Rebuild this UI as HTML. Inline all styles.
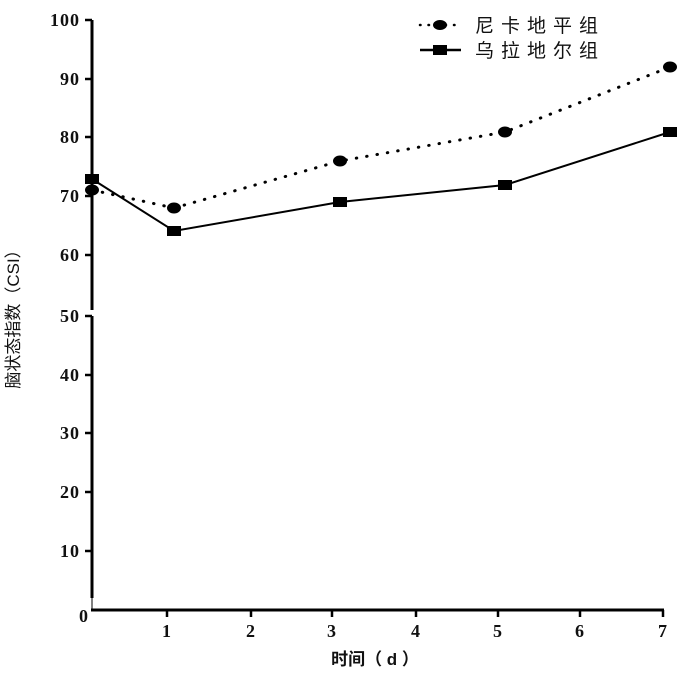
<!DOCTYPE html>
<html><head><meta charset="utf-8"><style>
html,body{margin:0;padding:0;background:#fff;width:700px;height:691px;overflow:hidden}
svg{display:block}
.t{font-family:"Liberation Serif","Noto Serif CJK SC",serif;font-weight:bold;font-size:18px;fill:#111;letter-spacing:1px}
.c{font-family:"Liberation Sans","Noto Sans CJK SC",sans-serif;fill:#111}
</style></head><body>
<svg width="700" height="691" viewBox="0 0 700 691" xmlns="http://www.w3.org/2000/svg">
<line x1="92" y1="20" x2="92" y2="310" stroke="#000" stroke-width="3"/>
<line x1="92" y1="316" x2="92" y2="598" stroke="#000" stroke-width="3"/>
<line x1="92" y1="598" x2="92" y2="610" stroke="#000" stroke-width="1"/>
<line x1="91" y1="610" x2="664" y2="610" stroke="#000" stroke-width="3"/>
<g stroke="#000" stroke-width="2.5">
<line x1="85" y1="20" x2="92" y2="20"/><line x1="85" y1="79" x2="92" y2="79"/>
<line x1="85" y1="137" x2="92" y2="137"/><line x1="85" y1="196" x2="92" y2="196"/>
<line x1="85" y1="255" x2="92" y2="255"/><line x1="85" y1="316" x2="92" y2="316"/>
<line x1="85" y1="375" x2="92" y2="375"/><line x1="85" y1="433" x2="92" y2="433"/>
<line x1="85" y1="492" x2="92" y2="492"/><line x1="85" y1="551" x2="92" y2="551"/>
<line x1="167" y1="610" x2="167" y2="617"/><line x1="251" y1="610" x2="251" y2="617"/>
<line x1="332" y1="610" x2="332" y2="617"/><line x1="416" y1="610" x2="416" y2="617"/>
<line x1="498" y1="610" x2="498" y2="617"/><line x1="580" y1="610" x2="580" y2="617"/>
<line x1="663" y1="610" x2="663" y2="617"/>
</g>
<g class="t" text-anchor="end">
<text x="80" y="26">100</text><text x="80" y="85">90</text><text x="80" y="143">80</text>
<text x="80" y="202">70</text><text x="80" y="261">60</text><text x="80" y="322">50</text>
<text x="80" y="381">40</text><text x="80" y="439">30</text><text x="80" y="498">20</text>
<text x="80" y="557">10</text>
</g>
<g class="t" text-anchor="middle">
<text x="84" y="622">0</text>
<text x="167" y="637">1</text><text x="251" y="637">2</text><text x="332" y="637">3</text>
<text x="416" y="637">4</text><text x="498" y="637">5</text><text x="580" y="637">6</text>
<text x="663" y="637">7</text>
</g>
<text class="c" x="375" y="665" text-anchor="middle" font-size="17" font-weight="bold">时间（ d ）</text>
<text class="c" transform="translate(19,315) rotate(-90)" text-anchor="middle" font-size="17" font-family="Liberation Serif, Noto Serif CJK SC, serif">脑状态指数（CSI）</text>
<polyline points="92,190 174,208 340,161 505,132 670,67" fill="none" stroke="#000" stroke-width="3" stroke-dasharray="0.5,10" stroke-linecap="round"/>
<polyline points="92,179 174,231 340,202 505,185 670,132" fill="none" stroke="#000" stroke-width="2"/>
<g fill="#000">
<ellipse cx="92" cy="190" rx="7" ry="5.5"/><ellipse cx="174" cy="208" rx="7" ry="5.5"/>
<ellipse cx="340" cy="161" rx="7" ry="5.5"/><ellipse cx="505" cy="132" rx="7" ry="5.5"/>
<ellipse cx="670" cy="67" rx="7" ry="5.5"/>
<rect x="85" y="174" width="14" height="10"/><rect x="167" y="226" width="14" height="10"/>
<rect x="333" y="197" width="14" height="10"/><rect x="498" y="180" width="14" height="10"/>
<rect x="663" y="127" width="14" height="10"/>
</g>
<line x1="420" y1="25" x2="460" y2="25" stroke="#000" stroke-width="2.5" stroke-dasharray="0.5,8" stroke-linecap="round"/>
<ellipse cx="440" cy="25" rx="7" ry="5" fill="#000"/>
<line x1="420" y1="50" x2="461" y2="50" stroke="#000" stroke-width="2.5"/>
<rect x="433" y="45" width="14" height="10" fill="#000"/>
<text class="c" x="475" y="32" font-size="19" letter-spacing="7">尼卡地平组</text>
<text class="c" x="475" y="57" font-size="19" letter-spacing="7">乌拉地尔组</text>
</svg>
</body></html>
